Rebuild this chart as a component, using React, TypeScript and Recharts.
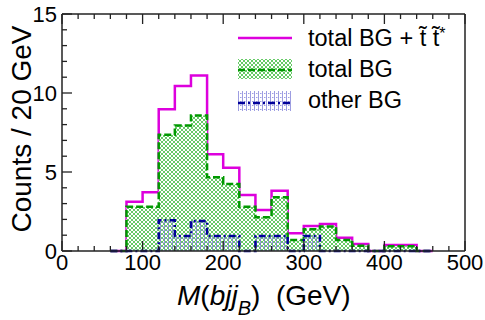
import React from 'react'
import { AreaChart, Area, XAxis, YAxis } from 'recharts'

// bin low edges of the histogram (20 GeV bins), last entry closes the final bin
const binEdges = [60, 80, 100, 120, 140, 160, 180, 200, 220, 240, 260, 280, 300, 320, 340, 360, 380, 400, 420, 440, 460]

// counts per bin
const totalPlusStop = [0, 3.12, 3.72, 8.97, 10.44, 11.1, 6.12, 5.27, 3.54, 2.6, 3.82, 1.12, 1.58, 1.71, 0.84, 0.44, 0, 0.38, 0.38, 0]
const totalBG = [0, 2.8, 2.8, 7.35, 7.95, 8.58, 4.67, 4.24, 2.8, 2.13, 3.4, 0.7, 1.38, 1.55, 0.7, 0.33, 0, 0.3, 0.3, 0]
const otherBG = [0, 0, 0, 1.95, 0.95, 1.9, 0.95, 0.95, 0, 0.95, 0.95, 0, 0.95, 0, 0, 0, 0, 0, 0, 0]

const xTicks = [0, 20, 40, 60, 80, 100, 120, 140, 160, 180, 200, 220, 240, 260, 280, 300, 320, 340, 360, 380, 400, 420, 440, 460, 480, 500]
const yTicks = [0, 1, 2, 3, 4, 5, 6, 7, 8, 9, 10, 11, 12, 13, 14, 15]

const MAGENTA = '#dd00dd'
const GREEN = '#009900'
const BLUE = '#000099'
const AXIS = '#222'
const FONT = '"Liberation Sans", Arial, Helvetica, sans-serif'

const lastBin = totalBG.length - 1
const data = binEdges.map((m, i) => ({
  m,
  sig: totalPlusStop[Math.min(i, lastBin)],
  bg: totalBG[Math.min(i, lastBin)],
  other: otherBG[Math.min(i, lastBin)],
}))

const BottomTick = (props: any) => {
  const { x, y, payload } = props
  const major = payload.value % 100 === 0
  return (
    <g>
      <line x1={x} x2={x} y1={y} y2={y - (major ? 10 : 5)} stroke={AXIS} strokeWidth={1.3} />
      {major && (
        <text x={x} y={y + 19} textAnchor="middle" fontSize={22} fill="#000" fontFamily={FONT}>
          {payload.value}
        </text>
      )}
    </g>
  )
}

const TopTick = (props: any) => {
  const { x, y, payload } = props
  const major = payload.value % 100 === 0
  return <line x1={x} x2={x} y1={y} y2={y + (major ? 10 : 5)} stroke={AXIS} strokeWidth={1.3} />
}

const LeftTick = (props: any) => {
  const { x, y, payload } = props
  const major = payload.value % 5 === 0
  return (
    <g>
      <line x1={x} x2={x + (major ? 10 : 5)} y1={y} y2={y} stroke={AXIS} strokeWidth={1.3} />
      {major && (
        <text x={x - 5} y={y + 8} textAnchor="end" fontSize={22} fill="#000" fontFamily={FONT}>
          {payload.value}
        </text>
      )}
    </g>
  )
}

const RightTick = (props: any) => {
  const { x, y, payload } = props
  const major = payload.value % 5 === 0
  return <line x1={x} x2={x - (major ? 10 : 5)} y1={y} y2={y} stroke={AXIS} strokeWidth={1.3} />
}

const XTitle = () => (
  <text x={177} y={305} fontSize={28} fill="#000" fontFamily={FONT} style={{ whiteSpace: 'pre' }}>
    <tspan fontStyle="italic">M</tspan>
    <tspan>(</tspan>
    <tspan fontStyle="italic">bjj</tspan>
    <tspan fontStyle="italic" fontSize={20} dy={10}>B</tspan>
    <tspan dy={-10}>{')\u00a0\u00a0(GeV)'}</tspan>
  </text>
)

const YTitle = () => (
  <text
    x={31}
    y={129}
    transform="rotate(-90 31 129)"
    textAnchor="middle"
    fontSize={28}
    fill="#000"
    fontFamily={FONT}
  >
    Counts / 20 GeV
  </text>
)

const legendRows = [
  { key: 'sig', label: 'total BG + ' },
  { key: 'bg', label: 'total BG' },
  { key: 'other', label: 'other BG' },
]

function LegendSymbol({ kind }: { kind: string }) {
  return (
    <svg width={54} height={20} style={{ flex: 'none' }}>
      {kind === 'sig' && <line x1={0} x2={54} y1={10} y2={10} stroke={MAGENTA} strokeWidth={2.5} />}
      {kind === 'bg' && (
        <>
          <rect x={0} y={0} width={54} height={20} fill="url(#xhatch)" />
          <line x1={0} x2={54} y1={11} y2={11} stroke={GREEN} strokeWidth={2.5} strokeDasharray="7 3" />
        </>
      )}
      {kind === 'other' && (
        <>
          <rect x={0} y={0} width={54} height={20} fill="url(#dots)" />
          <line x1={0} x2={54} y1={12} y2={12} stroke={BLUE} strokeWidth={2.5} strokeDasharray="7 3 2 3" />
        </>
      )}
    </svg>
  )
}

function HistLegend() {
  return (
    <div style={{ position: 'absolute', left: 238, top: 22, fontFamily: FONT, fontSize: 23.5, color: '#000' }}>
      {legendRows.map(r => (
        <div key={r.key} style={{ display: 'flex', alignItems: 'center', height: 31.5, lineHeight: 1 }}>
          <LegendSymbol kind={r.key} />
          <span style={{ marginLeft: 16, whiteSpace: 'pre' }}>
            {r.label}
            {r.key === 'sig' && (
              <>
                {'t\u0303 t\u0303'}
                <sup style={{ fontSize: 16, verticalAlign: 7 }}>*</sup>
              </>
            )}
          </span>
        </div>
      ))}
    </div>
  )
}

export default function App() {
  return (
    <div style={{ position: 'absolute', left: 0, top: 0, width: 485, height: 320, background: '#fff' }}>
      <AreaChart width={485} height={320} data={data} margin={{ top: 0, right: 0, bottom: 0, left: 0 }}>
        <defs>
          <pattern id="xhatch" width={4} height={4} patternUnits="userSpaceOnUse">
            <rect width={4} height={4} fill="#fff" />
            <path d="M0,0 L4,4 M4,0 L0,4" stroke="#55c455" strokeWidth={0.9} />
          </pattern>
          <pattern id="dots" width={4} height={4} patternUnits="userSpaceOnUse">
            <rect x={0} y={0} width={1} height={4} fill="#7c7cd6" fillOpacity={0.75} />
            <rect x={2} y={2} width={1.5} height={1} fill="#7c7cd6" fillOpacity={0.75} />
          </pattern>
        </defs>
        <XAxis
          dataKey="m"
          type="number"
          domain={[0, 500]}
          ticks={xTicks}
          interval={0}
          height={69}
          tickSize={0}
          tickMargin={0}
          tick={<BottomTick />}
          tickLine={false}
          axisLine={{ stroke: AXIS, strokeWidth: 1.5 }}
          label={<XTitle />}
        />
        <XAxis
          xAxisId="top"
          orientation="top"
          dataKey="m"
          type="number"
          domain={[0, 500]}
          ticks={xTicks}
          interval={0}
          height={14}
          tickSize={0}
          tickMargin={0}
          tick={<TopTick />}
          tickLine={false}
          axisLine={{ stroke: AXIS, strokeWidth: 1.5 }}
        />
        <YAxis
          type="number"
          domain={[0, 15]}
          ticks={yTicks}
          interval={0}
          width={62}
          tickSize={0}
          tickMargin={0}
          tick={<LeftTick />}
          tickLine={false}
          axisLine={{ stroke: AXIS, strokeWidth: 1.5 }}
          label={<YTitle />}
        />
        <YAxis
          yAxisId="right"
          orientation="right"
          type="number"
          domain={[0, 15]}
          ticks={yTicks}
          interval={0}
          width={20}
          tickSize={0}
          tickMargin={0}
          tick={<RightTick />}
          tickLine={false}
          axisLine={{ stroke: AXIS, strokeWidth: 1.5 }}
        />
        <Area
          type="stepAfter"
          dataKey="sig"
          stroke={MAGENTA}
          strokeWidth={2.5}
          fill="none"
          isAnimationActive={false}
          dot={false}
          activeDot={false}
        />
        <Area
          type="stepAfter"
          dataKey="bg"
          stroke={GREEN}
          strokeWidth={2.5}
          strokeDasharray="7 3"
          fill="url(#xhatch)"
          fillOpacity={1}
          isAnimationActive={false}
          dot={false}
          activeDot={false}
        />
        <Area
          type="stepAfter"
          dataKey="other"
          stroke={BLUE}
          strokeWidth={2.5}
          strokeDasharray="7 3 2 3"
          fill="url(#dots)"
          fillOpacity={1}
          isAnimationActive={false}
          dot={false}
          activeDot={false}
        />
      </AreaChart>
      <HistLegend />
    </div>
  )
}
